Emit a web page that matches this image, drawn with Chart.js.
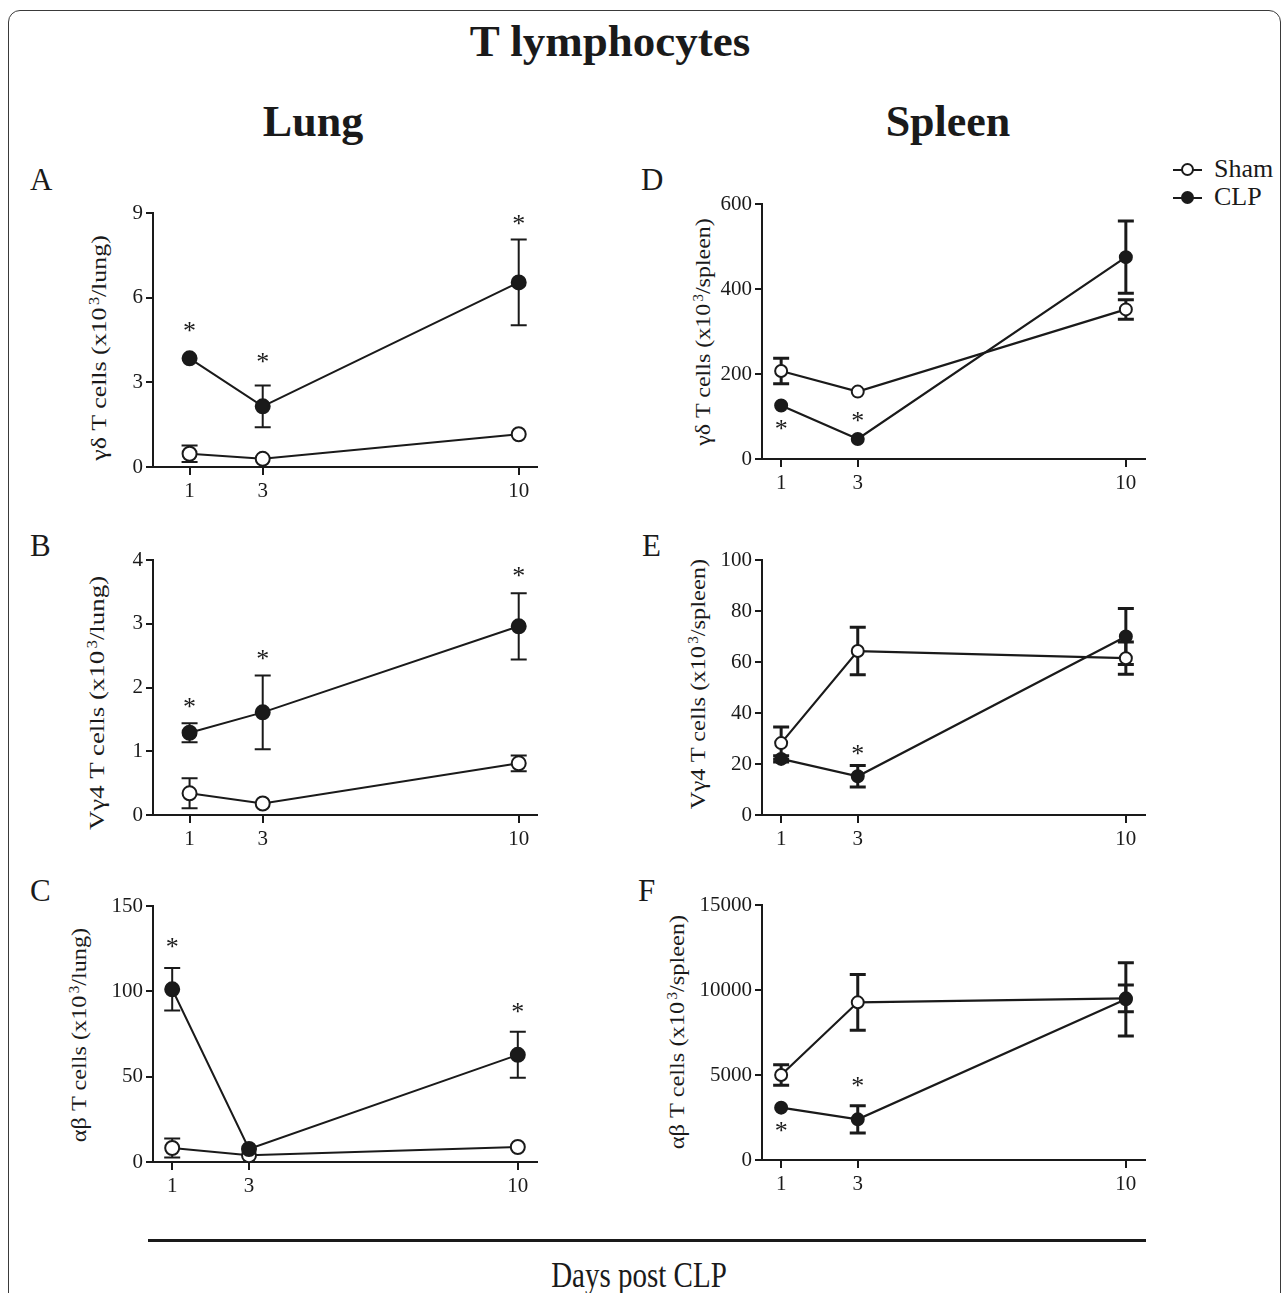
<!DOCTYPE html>
<html>
<head>
<meta charset="utf-8">
<script src="https://cdn.jsdelivr.net/npm/chart.js@4.4.1/dist/chart.umd.min.js"></script>
<style>
body { margin: 0; background: #fff; }
#page { position: relative; width: 1287px; height: 1293px; overflow: hidden;
        font-family: 'Liberation Serif', 'Times New Roman', serif; color: #1a1a1a; }
.frame { position: absolute; left: 8px; top: 10px; width: 1273px; height: 1400px;
         border: 1.5px solid #3a3a3a; border-radius: 12px; box-sizing: border-box; }
.txt { position: absolute; white-space: nowrap; line-height: 1; }
.ytitle { position: absolute; white-space: nowrap; line-height: 1; font-size: 22px; }
.ytitle sup { font-size: 0.62em; vertical-align: 0.55em; margin-left: 2px; line-height: 0; }
canvas { position: absolute; }
.legline { position: absolute; height: 2px; background: #1a1a1a; }
.legdot { position: absolute; width: 13px; height: 13px; border: 2px solid #1a1a1a;
          border-radius: 50%; box-sizing: border-box; }
</style>
</head>
<body>
<div id="page">
  <div class="frame"></div>

  <div class="txt" style="left:610px;top:19px;font-size:45px;font-weight:bold;transform:translateX(-50%)">T lymphocytes</div>
  <div class="txt" style="left:313px;top:100px;font-size:44px;font-weight:bold;transform:translateX(-50%)">Lung</div>
  <div class="txt" style="left:948px;top:100px;font-size:44px;font-weight:bold;transform:translateX(-50%)">Spleen</div>

  <div class="txt" style="left:30px;top:164px;font-size:31px">A</div>
  <div class="txt" style="left:30px;top:530px;font-size:31px">B</div>
  <div class="txt" style="left:30px;top:875px;font-size:31px">C</div>
  <div class="txt" style="left:641px;top:164px;font-size:31px">D</div>
  <div class="txt" style="left:642px;top:530px;font-size:31px">E</div>
  <div class="txt" style="left:638px;top:875px;font-size:31px">F</div>

  <div class="legline" style="left:1173px;top:169px;width:29px"></div>
  <div class="legdot" style="left:1181px;top:163px;background:#fff"></div>
  <div class="txt" style="left:1214px;top:156px;font-size:26px">Sham</div>
  <div class="legline" style="left:1173px;top:197px;width:29px"></div>
  <div class="legdot" style="left:1181px;top:191px;background:#1a1a1a"></div>
  <div class="txt" style="left:1214px;top:184px;font-size:26px">CLP</div>

  <div class="ytitle" data-len="226" style="left:99px;top:348px">γδ T cells (x10<sup>3</sup>/lung)</div>
  <div class="ytitle" data-len="254" style="left:97px;top:703px">Vγ4 T cells (x10<sup>3</sup>/lung)</div>
  <div class="ytitle" data-len="214" style="left:79px;top:1035px">αβ T cells (x10<sup>3</sup>/lung)</div>
  <div class="ytitle" data-len="228" style="left:703px;top:332px">γδ T cells (x10<sup>3</sup>/spleen)</div>
  <div class="ytitle" data-len="250" style="left:698px;top:684px">Vγ4 T cells (x10<sup>3</sup>/spleen)</div>
  <div class="ytitle" data-len="234" style="left:677px;top:1032px">αβ T cells (x10<sup>3</sup>/spleen)</div>

  <div style="position:absolute;left:148px;top:1239px;width:998px;height:3px;background:#1a1a1a"></div>
  <div class="txt" style="left:639px;top:1263px;font-size:29px;transform:translateX(-50%) scaleY(1.2);transform-origin:50% 84%">Days post CLP</div>
</div>

<script>
const INK = '#1a1a1a';
const days = [1, 3, 10];
const xTickDays = [1, 3, 10];

// A: gamma-delta T cells, lung
const aYTicks = [0, 3, 6, 9];
const aShamMean = [0.47, 0.29, 1.16];
const aShamSem = [0.29, 0, 0];
const aClpMean = [3.85, 2.15, 6.54];
const aClpSem = [0, 0.74, 1.52];
const aStarDays = [1, 3, 10];
const aStarVals = [4.99, 3.87, 8.77];

// B: Vgamma4 T cells, lung
const bYTicks = [0, 1, 2, 3, 4];
const bShamMean = [0.34, 0.18, 0.81];
const bShamSem = [0.235, 0, 0.125];
const bClpMean = [1.29, 1.61, 2.96];
const bClpSem = [0.15, 0.58, 0.52];
const bStarDays = [1, 3, 10];
const bStarVals = [1.76, 2.52, 3.82];

// C: alpha-beta T cells, lung
const cYTicks = [0, 50, 100, 150];
const cShamMean = [8.2, 3.9, 8.8];
const cShamSem = [5.6, 0, 0];
const cClpMean = [101.2, 7.6, 62.8];
const cClpSem = [12.5, 0, 13.5];
const cStarDays = [1, 10];
const cStarVals = [128.5, 90.7];

// D: gamma-delta T cells, spleen
const dYTicks = [0, 200, 400, 600];
const dShamMean = [207, 158.6, 352];
const dShamSem = [30, 0, 23];
const dClpMean = [126, 47, 475];
const dClpSem = [0, 0, 85];
const dStarDays = [1, 3];
const dStarVals = [80, 100];

// E: Vgamma4 T cells, spleen
const eYTicks = [0, 20, 40, 60, 80, 100];
const eShamMean = [28.2, 64.3, 61.5];
const eShamSem = [6.3, 9.3, 6.3];
const eClpMean = [22, 15.2, 70];
const eClpSem = [1.2, 4.2, 11];
const eStarDays = [3];
const eStarVals = [25.8];

// F: alpha-beta T cells, spleen
const fYTicks = [0, 5000, 10000, 15000];
const fShamMean = [5000, 9275, 9510];
const fShamSem = [610, 1640, 790];
const fClpMean = [3078, 2392, 9451];
const fClpSem = [0, 800, 2150];
const fStarDays = [1, 3];
const fStarVals = [1960, 4608];

const PAD_L = 90, PAD_T = 20, PAD_R = 20, PAD_B = 45;

const errorBars = {
  id: 'errorBars',
  beforeDatasetsDraw(chart, args, opts) {
    const ctx = chart.ctx, xs = chart.scales.x, ys = chart.scales.y;
    ctx.save();
    ctx.strokeStyle = INK;
    ctx.lineWidth = opts.width || 2;
    const cap = opts.cap || 8;
    chart.data.datasets.forEach(ds => {
      ds.data.forEach((pt, i) => {
        const e = ds.sem[i];
        if (!e) return;
        const x = xs.getPixelForValue(pt.x);
        const yt = ys.getPixelForValue(pt.y + e);
        const yb = ys.getPixelForValue(pt.y - e);
        ctx.beginPath();
        ctx.moveTo(x, yt); ctx.lineTo(x, yb);
        ctx.moveTo(x - cap, yt); ctx.lineTo(x + cap, yt);
        ctx.moveTo(x - cap, yb); ctx.lineTo(x + cap, yb);
        ctx.stroke();
      });
    });
    ctx.restore();
  }
};

const stars = {
  id: 'stars',
  afterDatasetsDraw(chart, args, opts) {
    if (!opts.days) return;
    const ctx = chart.ctx, xs = chart.scales.x, ys = chart.scales.y;
    const size = 26;
    ctx.save();
    ctx.fillStyle = INK;
    ctx.font = size + 'px "Liberation Serif"';
    ctx.textAlign = 'center';
    ctx.textBaseline = 'alphabetic';
    opts.days.forEach((d, i) => {
      ctx.fillText('*', xs.getPixelForValue(d), ys.getPixelForValue(opts.values[i]) + 0.48 * size);
    });
    ctx.restore();
  }
};

function series(means) {
  return days.map((d, i) => ({ x: d, y: means[i] }));
}

function panel(p) {
  const page = document.getElementById('page');
  const cv = document.createElement('canvas');
  const w = p.box[2] - p.box[0] + PAD_L + PAD_R;
  const h = p.box[3] - p.box[1] + PAD_T + PAD_B;
  cv.width = w; cv.height = h;
  cv.style.left = (p.box[0] - PAD_L) + 'px';
  cv.style.top = (p.box[1] - PAD_T) + 'px';
  cv.style.width = w + 'px';
  cv.style.height = h + 'px';
  page.appendChild(cv);

  const tickFont = { family: 'Liberation Serif', size: 21 };
  const grid = { drawOnChartArea: false, color: INK, lineWidth: 2 };

  new Chart(cv.getContext('2d'), {
    type: 'line',
    data: {
      datasets: [{
        label: 'Sham',
        data: series(p.sham),
        sem: p.shamSem,
        order: 1,
        borderColor: INK,
        borderWidth: p.line,
        pointRadius: p.r,
        pointBorderWidth: 2,
        pointBorderColor: INK,
        pointBackgroundColor: '#ffffff',
        tension: 0,
        clip: false
      }, {
        label: 'CLP',
        data: series(p.clp),
        sem: p.clpSem,
        order: 0,
        borderColor: INK,
        borderWidth: p.line,
        pointRadius: p.r,
        pointBorderWidth: 2,
        pointBorderColor: INK,
        pointBackgroundColor: INK,
        tension: 0,
        clip: false
      }]
    },
    options: {
      responsive: false,
      animation: false,
      layout: { padding: { left: 0, top: PAD_T, right: PAD_R, bottom: 0 } },
      plugins: {
        legend: { display: false },
        tooltip: { enabled: false },
        errorBars: { width: p.errW, cap: 8 },
        stars: { days: p.starDays, values: p.starVals }
      },
      scales: {
        x: {
          type: 'linear',
          min: p.xMin,
          max: 10.5,
          afterBuildTicks: s => { s.ticks = xTickDays.map(v => ({ value: v })); },
          afterFit: s => { s.height = PAD_B; },
          grid: Object.assign({ tickLength: 8 }, grid),
          border: { color: INK, width: 2 },
          ticks: { color: INK, font: tickFont, padding: 4, maxRotation: 0, autoSkip: false,
                   callback: v => String(v) }
        },
        y: {
          type: 'linear',
          min: p.yTicks[0],
          max: p.yTicks[p.yTicks.length - 1],
          afterBuildTicks: s => { s.ticks = p.yTicks.map(v => ({ value: v })); },
          afterFit: s => { s.width = PAD_L; },
          grid: Object.assign({ tickLength: 7 }, grid),
          border: { color: INK, width: 2 },
          ticks: { color: INK, font: tickFont, padding: 3, autoSkip: false,
                   callback: v => String(v) }
        }
      }
    },
    plugins: [errorBars, stars]
  });
}

panel({ box: [153, 213, 537, 467], xMin: 0, yTicks: aYTicks, sham: aShamMean, shamSem: aShamSem,
        clp: aClpMean, clpSem: aClpSem, starDays: aStarDays, starVals: aStarVals, r: 7, line: 2, errW: 2 });
panel({ box: [153, 560, 537, 815], xMin: 0, yTicks: bYTicks, sham: bShamMean, shamSem: bShamSem,
        clp: bClpMean, clpSem: bClpSem, starDays: bStarDays, starVals: bStarVals, r: 7, line: 2, errW: 2 });
panel({ box: [153, 906, 537, 1162], xMin: 0.5, yTicks: cYTicks, sham: cShamMean, shamSem: cShamSem,
        clp: cClpMean, clpSem: cClpSem, starDays: cStarDays, starVals: cStarVals, r: 7, line: 2, errW: 2 });
panel({ box: [762, 204, 1145, 459], xMin: 0.5, yTicks: dYTicks, sham: dShamMean, shamSem: dShamSem,
        clp: dClpMean, clpSem: dClpSem, starDays: dStarDays, starVals: dStarVals, r: 6, line: 2.2, errW: 3 });
panel({ box: [762, 560, 1145, 815], xMin: 0.5, yTicks: eYTicks, sham: eShamMean, shamSem: eShamSem,
        clp: eClpMean, clpSem: eClpSem, starDays: eStarDays, starVals: eStarVals, r: 6, line: 2.2, errW: 3 });
panel({ box: [762, 905, 1145, 1160], xMin: 0.5, yTicks: fYTicks, sham: fShamMean, shamSem: fShamSem,
        clp: fClpMean, clpSem: fClpSem, starDays: fStarDays, starVals: fStarVals, r: 6, line: 2.2, errW: 3 });

// rotated axis titles, stretched along the text to the length seen in the figure
document.querySelectorAll('.ytitle').forEach(el => {
  const k = parseFloat(el.dataset.len) / el.offsetWidth;
  el.style.transform = 'translate(-50%, -50%) rotate(-90deg) scaleX(' + k.toFixed(3) + ')';
});
</script>
</body>
</html>
